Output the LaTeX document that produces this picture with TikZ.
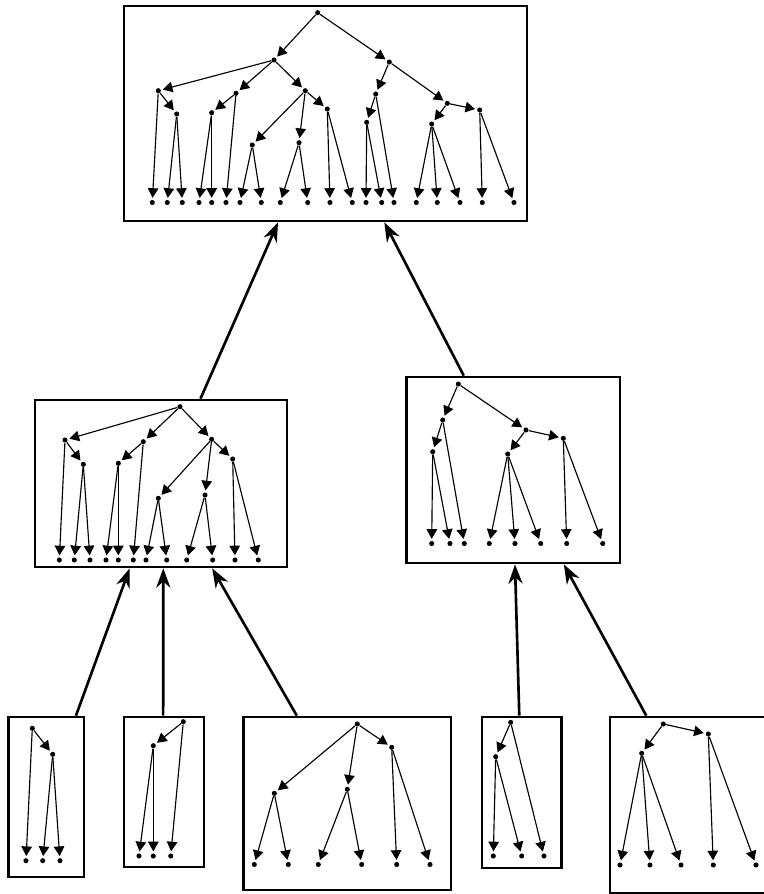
\documentclass[tikz,border=0pt]{standalone}
\usetikzlibrary{arrows.meta,fit,calc}
\begin{document}
\begin{tikzpicture}[
            x=0.02cm, y=-0.02cm,
            vNode/.style={circle, fill=black, inner sep=0pt, minimum size=2.9pt},
            tBox/.style={draw=black, line width=1.5pt, rectangle, inner sep=0pt},
            tEdge/.style={line width=0.65pt, -{Triangle[length=5.5pt, width=6pt]}, shorten >=1pt},
            mArrow/.style={line width=1.5pt, -{Stealth[length=11pt, width=8pt, inset=3.5pt]}}
        ]
        \useasboundingbox (0,0) rectangle (764,894);
        \clip (0,0) rectangle (764,894);

        % boxes
        \node [tBox, fit={(124,6) (527,221)}] (boxTop) {};
        \node [tBox, fit={(35,400) (287,567)}] (boxL) {};
        \node [tBox, fit={(406.5,377) (620,563)}] (boxR) {};
        \node [tBox, fit={(8.5,717) (84,877)}] (box1) {};
        \node [tBox, fit={(124,717) (204,867)}] (box2) {};
        \node [tBox, fit={(243.5,717) (451,890)}] (box3) {};
        \node [tBox, fit={(482,717) (561.5,868)}] (box4) {};
        \node [tBox, fit={(610,717) (790,893)}] (box5) {};

        % top tree
        \foreach \n/\x/\y in {t0/317.7/12.7, tA/274/60, tB/158.3/90.7, tC/176.7/114, tD/236/93.3,
                tE/211.7/112.7, tF/305.3/90.7, tG/252.3/145, tH/299/142.7, tI/327.3/109,
                tJ/389.3/62, tK/375.7/94, tL/366.7/122.3, tM/447.3/103.3, tN/431.7/124, tO/479.7/110}
            \node [vNode] (\n) at (\x,\y) {};
        \foreach \x [count=\i] in {152.3,167.3,182.3,199,211.7,226,240,261.3,280.3,307.7,
                330,352.3,366,381.7,394,416.3,437.3,460,482.3,514}
            \node [vNode] (t\i) at (\x,202.5) {};
        \foreach \a/\b in {t0/tA, t0/tJ, tA/tB, tA/tD, tA/tF, tB/t1, tB/tC, tC/t2, tC/t3,
                tD/tE, tD/t6, tE/t4, tE/t5, tF/tG, tF/tH, tF/tI, tG/t7, tG/t8, tH/t9, tH/t10,
                tI/t11, tI/t12, tJ/tK, tJ/tM, tK/tL, tK/t15, tL/t13, tL/t14, tM/tN, tM/tO,
                tN/t16, tN/t17, tN/t18, tO/t19, tO/t20}
            \draw [tEdge] (\a) -- (\b);

        % middle left tree
        \foreach \n/\x/\y in {l0/180/406.7, lB/65/440, lC/83.3/464.3, lD/143.3/441.7, lE/118.3/463.3,
                lF/211.7/439.3, lG/158.3/498.3, lH/205/495, lI/232.7/459}
            \node [vNode] (\n) at (\x,\y) {};
        \foreach \x [count=\i] in {59.3,74.3,90,106,118.3,133.3,146,166.7,186.7,212.7,235,258.3}
            \node [vNode] (l\i) at (\x,560) {};
        \foreach \a/\b in {l0/lB, l0/lD, l0/lF, lB/l1, lB/lC, lC/l2, lC/l3, lD/lE, lD/l6,
                lE/l4, lE/l5, lF/lG, lF/lH, lF/lI, lG/l7, lG/l8, lH/l9, lH/l10, lI/l11, lI/l12}
            \draw [tEdge] (\a) -- (\b);

        % middle right tree
        \foreach \n/\x/\y in {r0/458.3/384, rK/442.7/420, rL/432.7/451.7, rM/526/430,
                rN/507.7/454, rO/563.3/438.3}
            \node [vNode] (\n) at (\x,\y) {};
        \foreach \x [count=\i] in {431.7,450,464.3,489.3,515,540.7,566.7,602.7}
            \node [vNode] (r\i) at (\x,543.5) {};
        \foreach \a/\b in {r0/rK, r0/rM, rK/rL, rK/r3, rL/r1, rL/r2, rM/rN, rM/rO,
                rN/r4, rN/r5, rN/r6, rO/r7, rO/r8}
            \draw [tEdge] (\a) -- (\b);

        % bottom trees
        \node [vNode] (a0) at (32.3,728.3) {};
        \node [vNode] (aC) at (52.7,754.3) {};
        \foreach \x [count=\i] in {26,42.7,60}
            \node [vNode] (a\i) at (\x,860.7) {};
        \foreach \a/\b in {a0/aC, a0/a1, aC/a2, aC/a3}
            \draw [tEdge] (\a) -- (\b);

        \node [vNode] (b0) at (183.3,721.7) {};
        \node [vNode] (bE) at (153.3,745.7) {};
        \foreach \x [count=\i] in {139,153.3,170.7}
            \node [vNode] (b\i) at (\x,856) {};
        \foreach \a/\b in {b0/bE, b0/b3, bE/b1, bE/b2}
            \draw [tEdge] (\a) -- (\b);

        \foreach \n/\x/\y in {c0/357.3/724, cG/274.3/793.3, cH/347.3/789.3, cI/391.7/747.3}
            \node [vNode] (\n) at (\x,\y) {};
        \foreach \x [count=\i] in {254.3,288.3,318.3,361.7,396.7,430}
            \node [vNode] (c\i) at (\x,864.5) {};
        \foreach \a/\b in {c0/cG, c0/cH, c0/cI, cG/c1, cG/c2, cH/c3, cH/c4, cI/c5, cI/c6}
            \draw [tEdge] (\a) -- (\b);

        \node [vNode] (d0) at (510.7,722.3) {};
        \node [vNode] (dL) at (495.7,756.7) {};
        \foreach \x [count=\i] in {493.3,521.7,544}
            \node [vNode] (d\i) at (\x,856) {};
        \foreach \a/\b in {d0/dL, d0/d3, dL/d1, dL/d2}
            \draw [tEdge] (\a) -- (\b);

        \foreach \n/\x/\y in {e0/663.3/724, eN/641.7/753.3, eO/708.3/734}
            \node [vNode] (\n) at (\x,\y) {};
        \foreach \x [count=\i] in {620,650,681,713.3,756}
            \node [vNode] (e\i) at (\x,865) {};
        \foreach \a/\b in {e0/eN, e0/eO, eN/e1, eN/e2, eN/e3, eO/e4, eO/e5}
            \draw [tEdge] (\a) -- (\b);

        % merge arrows
        \draw [mArrow] ($(box1.north west)!0.88!(box1.north east)$) -- ($(boxL.south west)!0.377!(boxL.south east)$);
        \draw [mArrow] ($(box2.north west)!0.49!(box2.north east)$) -- ($(boxL.south west)!0.509!(boxL.south east)$);
        \draw [mArrow] ($(box3.north west)!0.26!(box3.north east)$) -- ($(boxL.south west)!0.701!(boxL.south east)$);
        \draw [mArrow] ($(box4.north west)!0.47!(box4.north east)$) -- ($(boxR.south west)!0.508!(boxR.south east)$);
        \draw [mArrow] ($(box5.north west)!0.206!(box5.north east)$) -- ($(boxR.south west)!0.734!(boxR.south east)$);
        \draw [mArrow] ($(boxL.north west)!0.655!(boxL.north east)$) -- ($(boxTop.south west)!0.383!(boxTop.south east)$);
        \draw [mArrow] ($(boxR.north west)!0.271!(boxR.north east)$) -- ($(boxTop.south west)!0.645!(boxTop.south east)$);

    \end{tikzpicture}
\end{document}
